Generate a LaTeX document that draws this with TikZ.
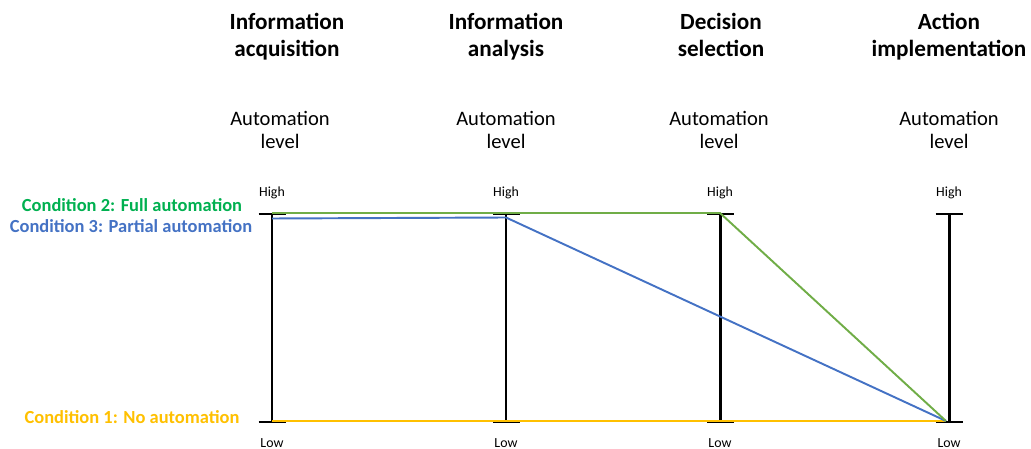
\documentclass[tikz,border=0pt]{standalone}
\usepackage{fontspec}
\setmainfont{Carlito}
\usetikzlibrary{positioning}

\definecolor{noGreen}{HTML}{00B050}
\definecolor{fullLine}{HTML}{70AD47}
\definecolor{partBlue}{HTML}{4472C4}
\definecolor{noYellow}{HTML}{FFC000}

\tikzset{
    stagehead/.style={align=center,font=\fontsize{13.2}{15.4}\selectfont\bfseries},
    levelhead/.style={align=center,font=\fontsize{11.7}{13.2}\selectfont},
    ticklabel/.style={font=\fontsize{7.9}{9}\selectfont},
    condlabel/.style={font=\fontsize{10.5}{12}\selectfont\bfseries},
    axis/.style={line width=1.7pt,black},
    condline/.style={line width=1.1pt},
}

\begin{document}
\begin{tikzpicture}[x=0.02cm,y=-0.02cm]
    \useasboundingbox (0,0) rectangle (1031,449);

    % Axis end points (high / low automation level)
    \coordinate (iaHigh) at (272,214);  \coordinate (iaLow) at (272,422);
    \coordinate (anHigh) at (506,214);  \coordinate (anLow) at (506,422);
    \coordinate (dsHigh) at (720,214);  \coordinate (dsLow) at (720,422);
    \coordinate (aiHigh) at (949,214);  \coordinate (aiLow) at (949,422);
    \coordinate (meet) at (946,421);

    % Stage headings:
    \node [stagehead] (iaHead) at (287,38) {Information\strut\\acquisition\strut};
    \node [stagehead] (anHead) at (506,38) {Information\strut\\analysis\strut};
    \node [stagehead] (dsHead) at (721,38) {Decision\strut\\selection\strut};
    \node [stagehead] (aiHead) at (949,38) {Action\strut\\implementation\strut};

    \node [levelhead] (iaLevel) at (280,130) {Automation\\level};
    \node [levelhead] (anLevel) at (506,130) {Automation\\level};
    \node [levelhead] (dsLevel) at (719,130) {Automation\\level};
    \node [levelhead] (aiLevel) at (949,130) {Automation\\level};

    % Axes with their end bars:
    \foreach \s in {ia,an,ds,ai} {
        \draw [axis] (\s High) -- (\s Low);
        \draw [axis] ([xshift=-0.27cm]\s High) -- ([xshift=0.27cm]\s High);
        \draw [axis] ([xshift=-0.27cm]\s Low) -- ([xshift=0.27cm]\s Low);
        \node [ticklabel, above=0.17cm of \s High] (\s HighLbl) {High};
        \node [ticklabel, below=0.2cm of \s Low] (\s LowLbl) {Low};
    }

    % Conditions
    \draw [condline,noYellow] ([yshift=0.02cm]iaLow) -- (meet);
    \draw [condline,partBlue] ([yshift=-0.09cm]iaHigh) -- ([yshift=-0.07cm]anHigh) -- (meet);
    \draw [condline,fullLine] ([yshift=0.02cm]iaHigh) -- ([yshift=0.02cm]dsHigh) -- (meet);

    \node [condlabel,text=noGreen] (fullLbl) at (132,205) {Condition 2: Full automation};
    \node [condlabel,text=partBlue] (partLbl) at (131,226) {Condition 3: Partial automation};
    \node [condlabel,text=noYellow] (noLbl) at (132,417) {Condition 1: No automation};
\end{tikzpicture}
\end{document}
